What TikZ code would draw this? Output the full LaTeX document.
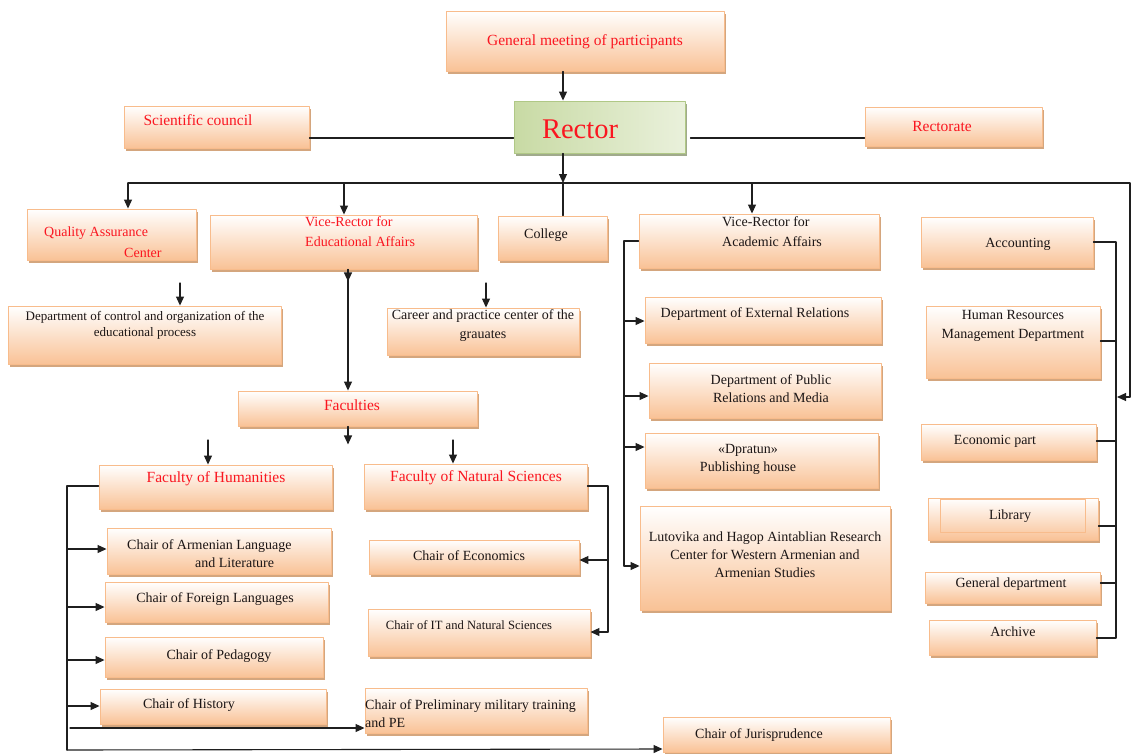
\documentclass[tikz,border=0pt]{standalone}
\usepackage{fontspec}
\setmainfont{Liberation Serif}
\usetikzlibrary{arrows.meta,shadows,calc}

\definecolor{peach}{RGB}{249,194,150}
\definecolor{peachline}{RGB}{248,188,140}
\definecolor{peachshadow}{RGB}{212,166,126}
\definecolor{rectgreen}{RGB}{194,214,154}
\definecolor{rectline}{RGB}{176,200,134}
\definecolor{rectshadow}{RGB}{160,170,140}
\definecolor{orgred}{RGB}{250,22,32}
\definecolor{orgtext}{RGB}{28,22,22}

\tikzset{
  pbox/.style={
    draw=peachline, line width=0.9pt,
    top color=white, middle color=peach!45, bottom color=peach,
    drop shadow={shadow xshift=1.5pt, shadow yshift=-2.5pt,
      shadow scale=1, fill=peachshadow, opacity=1}
  },
  gbox/.style={
    draw=rectline, line width=0.9pt,
    left color=rectgreen!90, right color=rectgreen!35,
    drop shadow={shadow xshift=1.5pt, shadow yshift=-2.5pt,
      shadow scale=1, fill=rectshadow, opacity=1}
  },
  txt/.style={
    inner sep=0pt, align=center, text=orgtext,
    font=\fontsize{14}{19}\selectfont
  },
  stxt/.style={txt, font=\fontsize{13}{16}\selectfont},
  rtxt/.style={txt, text=orgred},
  htxt/.style={rtxt, font=\fontsize{15.5}{19}\selectfont},
  ln/.style={line width=1.1pt, draw=black!88},
  arr/.style={ln, -{Triangle[length=9pt,width=8pt]}}
}

\begin{document}
\begin{tikzpicture}[
  x=1pt, y=-1pt,
  line cap=round,
  line join=round
]
  \useasboundingbox (0,0) rectangle (1133,753);

  % Верхний уровень
  \node[pbox, minimum width=278pt, minimum height=60pt] (meet) at (585,41) {};
  \node[htxt] (meet-t) at (585,42) {General meeting of participants};

  \node[gbox, minimum width=171pt, minimum height=52pt] (rector) at (599.5,127) {};
  \node[rtxt, font=\fontsize{28.5}{30}\selectfont] (rector-t) at (580,129) {Rector};

  \node[pbox, minimum width=185pt, minimum height=42pt] (sci) at (216.5,127) {};
  \node[htxt] (sci-t) at (198,120) {Scientific council};

  \node[pbox, minimum width=177pt, minimum height=39pt] (rectorate) at (953.5,126.5) {};
  \node[htxt] (rectorate-t) at (942,126) {Rectorate};

  % Второй уровень
  \node[pbox, minimum width=169pt, minimum height=51pt] (qac) at (111.5,234.5) {};
  \node[rtxt, align=left, anchor=west, font=\fontsize{14}{21}\selectfont]
    (qac-t) at (44,242) {Quality Assurance\\\hspace*{80pt}Center};

  \node[pbox, minimum width=267pt, minimum height=54pt] (vre) at (343.5,242) {};
  \node[rtxt, align=left, anchor=west, font=\fontsize{14}{20}\selectfont]
    (vre-t) at (305,232) {Vice-Rector for\\Educational Affairs};

  \node[pbox, minimum width=109pt, minimum height=44pt] (college) at (552.5,238) {};
  \node[txt] (college-t) at (546,235) {College};

  \node[pbox, minimum width=240pt, minimum height=54pt] (vra) at (759,241) {};
  \node[txt, align=left, anchor=west, font=\fontsize{14}{20}\selectfont]
    (vra-t) at (722,232) {Vice-Rector for\\Academic Affairs};

  \node[pbox, minimum width=172pt, minimum height=50pt] (acc) at (1007,242) {};
  \node[txt] (acc-t) at (1018,244) {Accounting};

  % Отделы под вице-ректором по учебной работе
  \node[pbox, minimum width=273pt, minimum height=58pt] (dco) at (144.5,335) {};
  \node[stxt] (dco-t) at (145,325)
    {Department of control and organization of the\\educational process};

  \node[pbox, minimum width=192pt, minimum height=47pt] (career) at (483,331.5) {};
  \node[txt] (career-t) at (483,326) {Career and practice center of the\\grauates};

  \node[pbox, minimum width=239pt, minimum height=35pt] (fac) at (357.5,408.5) {};
  \node[htxt] (fac-t) at (352,405) {Faculties};

  % Факультеты и кафедры
  \node[pbox, minimum width=233pt, minimum height=44pt] (fhum) at (215.5,487) {};
  \node[htxt] (fhum-t) at (216,479) {Faculty of Humanities};

  \node[pbox, minimum width=223pt, minimum height=45pt] (fnat) at (475.5,486.5) {};
  \node[htxt] (fnat-t) at (476,478) {Faculty of Natural Sciences};

  \node[pbox, minimum width=224pt, minimum height=46pt] (armen) at (219,551) {};
  \node[txt, align=left, anchor=west, font=\fontsize{14}{18}\selectfont]
    (armen-t) at (127,554) {Chair of Armenian Language\\\hspace*{68pt}and Literature};

  \node[pbox, minimum width=223pt, minimum height=40pt] (forlang) at (216.5,602) {};
  \node[txt] (forlang-t) at (215,599) {Chair of Foreign Languages};

  \node[pbox, minimum width=218pt, minimum height=40pt] (peda) at (214,657) {};
  \node[txt] (peda-t) at (219,656) {Chair of Pedagogy};

  \node[pbox, minimum width=226pt, minimum height=35pt] (hist) at (213,706.5) {};
  \node[txt] (hist-t) at (189,705) {Chair of History};

  \node[pbox, minimum width=222pt, minimum height=45pt] (milit) at (476,710.5) {};
  \node[txt, align=left, anchor=west, font=\fontsize{14}{18}\selectfont]
    (milit-t) at (365,714) {Chair of Preliminary military training\\and PE};

  \node[pbox, minimum width=210pt, minimum height=34pt] (econ) at (474,557) {};
  \node[txt] (econ-t) at (469,556) {Chair of Economics};

  \node[pbox, minimum width=222pt, minimum height=47pt] (itns) at (479,632.5) {};
  \node[stxt, font=\fontsize{12.6}{15}\selectfont] (itns-t) at (469,625)
    {Chair of IT and Natural Sciences};

  \node[pbox, minimum width=227pt, minimum height=35pt] (juris) at (776.5,734.5) {};
  \node[txt] (juris-t) at (759,735) {Chair of Jurisprudence};

  % Подразделения вице-ректора по научной работе
  \node[pbox, minimum width=236pt, minimum height=46pt] (extrel) at (763,320) {};
  \node[txt] (extrel-t) at (755,314) {Department of External Relations};

  \node[pbox, minimum width=232pt, minimum height=55pt] (pubrel) at (765,390.5) {};
  \node[txt, font=\fontsize{14}{18}\selectfont] (pubrel-t) at (771,389)
    {Department of Public\\Relations and Media};

  \node[pbox, minimum width=233pt, minimum height=55pt] (dpratun) at (761.5,460.5) {};
  \node[txt, font=\fontsize{14}{18}\selectfont] (dpratun-t) at (748,459)
    {«Dpratun»\\Publishing house};

  \node[pbox, minimum width=250pt, minimum height=104pt] (lutov) at (765,558) {};
  \node[txt, font=\fontsize{14}{18}\selectfont] (lutov-t) at (765,555)
    {Lutovika and Hagop Aintablian Research\\Center for Western Armenian and\\Armenian Studies};

  % Административные службы
  \node[pbox, minimum width=174pt, minimum height=72pt] (hrm) at (1013,342) {};
  \node[txt] (hrm-t) at (1013,326) {Human Resources\\Management Department};

  \node[pbox, minimum width=175pt, minimum height=36pt] (econpart) at (1008.5,442) {};
  \node[txt] (econpart-t) at (995,441) {Economic part};

  \node[pbox, minimum width=170pt, minimum height=42pt] (lib) at (1013,519) {};
  \draw[draw=peachline, line width=0.9pt]
    ($(lib.north west)+(13,2)$) rectangle ($(lib.south east)+(-13,-8)$);
  \node[txt] (lib-t) at (1010,516) {Library};

  \node[pbox, minimum width=175pt, minimum height=31pt] (gendep) at (1012.5,587.5) {};
  \node[txt] (gendep-t) at (1011,584) {General department};

  \node[pbox, minimum width=167pt, minimum height=35pt] (archive) at (1012.5,637.5) {};
  \node[txt] (archive-t) at (1013,632) {Archive};

  % Связи
  \coordinate (bus) at (563,183);
  \draw[arr] (meet.south -| bus) -- (rector.north -| bus);
  \draw[ln] (sci.east |- 0,138) -- (rector.west |- 0,138);
  \draw[ln] ([xshift=5pt]rector.east |- 0,138) -- (rectorate.west |- 0,138);
  \draw[arr] (rector.south -| bus) -- (bus);
  \draw[ln] (bus) -- (college.north -| bus);
  \draw[ln] (bus -| 128,0) -- (bus -| 1130,0) -- (1130,397);
  \draw[arr] (1130,397) -- (1117,397);
  \draw[arr] (bus -| 128,0) -- (qac.north -| 128,0);
  \draw[arr] (bus -| 344,0) -- (vre.north -| 344,0);
  \draw[arr] (bus -| 752,0) -- (vra.north -| 752,0);

  \draw[arr] (180,283) -- (dco.north -| 180,0);
  \draw[arr] (486,283) -- (career.north -| 486,0);
  \draw[arr] (vre.south -| 348,0) -- (fac.north -| 348,0);
  \draw[arr] (vre.south -| 348,0) -- ++(0,12);
  \draw[arr] (fac.south -| 348,0) -- ++(0,18);
  \draw[arr] (208,440) -- (fhum.north -| 208,0);
  \draw[arr] (453,440) -- (fnat.north -| 453,0);

  % Гуманитарный факультет
  \draw[ln] (fhum.west |- 0,486) -- (67,486) -- (67,750);
  \draw[arr] (67,750) -- (juris.west |- 0,749);
  \draw[arr] (67,549) -- (armen.west |- 0,549);
  \draw[arr] (67,607) -- (forlang.west |- 0,607);
  \draw[arr] (67,660) -- (peda.west |- 0,660);
  \draw[arr] (67,706) -- (hist.west |- 0,706);
  \draw[arr] (70,728) -- (milit.west |- 0,728);

  % Естественнонаучный факультет
  \draw[ln] (fnat.east |- 0,486) -- (608,486) -- (608,632);
  \draw[arr] (608,560) -- (econ.east |- 0,560);
  \draw[arr] (608,632) -- (itns.east |- 0,632);

  % Научная работа
  \draw[ln] (vra.west) -- (624,241) -- (624,566);
  \draw[arr] (624,321) -- (extrel.west |- 0,321);
  \draw[arr] (624,396) -- (pubrel.west |- 0,396);
  \draw[arr] (624,447) -- (dpratun.west |- 0,447);
  \draw[arr] (624,566) -- (lutov.west |- 0,566);

  % Административные службы
  \draw[ln] (acc.east) -- (1116,242) -- (1116,638) -- (archive.east |- 0,638);
  \draw[ln] (hrm.east |- 0,341) -- (1116,341);
  \draw[ln] (econpart.east |- 0,441) -- (1116,441);
  \draw[ln] (lib.east |- 0,526) -- (1116,526);
  \draw[ln] (gendep.east |- 0,583) -- (1116,583);
\end{tikzpicture}
\end{document}
